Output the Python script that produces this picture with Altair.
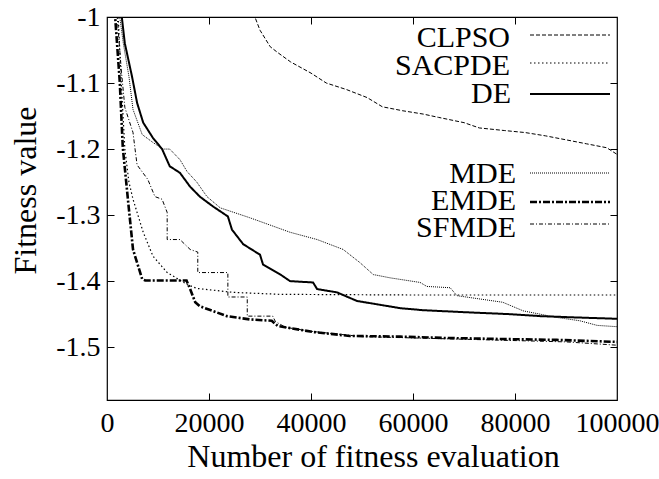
import altair as alt
import pandas as pd

# ---------------- data ----------------
names = ["CLPSO", "SACPDE", "DE", "MDE", "EMDE", "SFMDE"]

clpso_x = [27000, 29000, 30000, 32000, 33500, 36000, 40000, 43000, 47000, 51000, 54000,
           58000, 62000, 65000, 70000, 73000, 78000, 82000, 86000, 90000, 94000, 98000, 100000]
clpso_y = [-0.97, -1.0, -1.02, -1.045, -1.054, -1.068, -1.085, -1.1, -1.11, -1.122, -1.136,
           -1.142, -1.147, -1.152, -1.16, -1.168, -1.172, -1.175, -1.18, -1.186, -1.192, -1.198, -1.208]

sacpde_x = [1800, 2200, 2800, 3500, 4300, 5100, 7100, 9000, 11800, 15700, 17600, 24700,
            34000, 60000, 100000]
sacpde_y = [-0.97, -1.0, -1.1, -1.2, -1.25, -1.276, -1.326, -1.362, -1.387, -1.405, -1.411,
            -1.417, -1.42, -1.421, -1.421]

de_x = [2500, 2900, 3500, 4900, 5900, 7100, 9000, 10800, 12300, 14300, 16300, 18200, 20800,
        23700, 24500, 26700, 30000, 30600, 34000, 35900, 40400, 41200, 45100, 49000, 52900,
        57500, 62000, 70000, 79000, 85000, 92000, 100000]
de_y = [-0.95, -1.0, -1.04, -1.09, -1.13, -1.16, -1.183, -1.2, -1.226, -1.236, -1.257, -1.272,
        -1.287, -1.302, -1.322, -1.344, -1.36, -1.375, -1.39, -1.4, -1.402, -1.412, -1.417,
        -1.43, -1.435, -1.441, -1.444, -1.447, -1.45, -1.453, -1.455, -1.457]

mde_x = [2000, 2500, 3200, 4300, 5100, 6900, 9000, 11000, 12300, 14300, 15700, 17600, 19600,
         22200, 28000, 35900, 41200, 46300, 49600, 52200, 55500, 61400, 62700, 67300, 68600,
         77600, 81600, 84900, 88200, 92700, 96100, 100000]
mde_y = [-0.95, -1.0, -1.04, -1.09, -1.14, -1.178, -1.19, -1.2, -1.2, -1.216, -1.234, -1.25,
         -1.272, -1.289, -1.304, -1.326, -1.337, -1.352, -1.372, -1.39, -1.395, -1.402, -1.408,
         -1.41, -1.422, -1.432, -1.445, -1.45, -1.455, -1.46, -1.467, -1.469]

emde_x = [1200, 1600, 2500, 3100, 4100, 5100, 5900, 6900, 7500, 15600, 16300, 17300, 18200,
          23500, 28000, 32300, 33500, 40400, 47600, 57500, 65900, 80000, 88200, 100000]
emde_y = [-0.97, -1.0, -1.098, -1.198, -1.276, -1.352, -1.372, -1.397, -1.399, -1.399, -1.412,
          -1.432, -1.438, -1.453, -1.458, -1.46, -1.468, -1.477, -1.483, -1.484, -1.486, -1.488,
          -1.489, -1.492]

sfmde_x = [1500, 2000, 2800, 3500, 5100, 5500, 5900, 8000, 9400, 10800, 11800, 11800, 14300,
           16300, 17800, 17800, 23700, 23700, 27500, 27500, 32500, 33000, 35000, 40000, 50000,
           60000, 70000, 80000, 90000, 100000]
sfmde_y = [-0.97, -1.0, -1.08, -1.137, -1.175, -1.2, -1.224, -1.246, -1.272, -1.276, -1.296,
           -1.337, -1.337, -1.352, -1.356, -1.387, -1.387, -1.424, -1.424, -1.453, -1.453,
           -1.461, -1.47, -1.476, -1.484, -1.486, -1.488, -1.49, -1.492, -1.497]

x_ticks = [0, 20000, 40000, 60000, 80000, 100000]
y_ticks = [-1.0, -1.1, -1.2, -1.3, -1.4, -1.5]

series_x = [clpso_x, sacpde_x, de_x, mde_x, emde_x, sfmde_x]
series_y = [clpso_y, sacpde_y, de_y, mde_y, emde_y, sfmde_y]

# ---------------- styles ----------------
FONT = "Liberation Serif"
W, H = 510, 383
styles = {
    "CLPSO": dict(dash=[4, 2], width=1.0),
    "SACPDE": dict(dash=[1.5, 2.5], width=1.2),
    "DE": dict(dash=[1, 0], width=2.0),
    "MDE": dict(dash=[1, 1], width=1.0),
    "EMDE": dict(dash=[7, 2, 2, 2], width=2.6),
    "SFMDE": dict(dash=[4, 2, 1, 2], width=1.0),
}
legend_rows = {  # (text right x, baseline y, sample y) in view pixels
    "CLPSO": (403, 30, 18),
    "SACPDE": (403, 58, 46),
    "DE": (404, 86, 77),
    "MDE": (409, 166, 156),
    "EMDE": (409, 193, 185),
    "SFMDE": (409, 220, 207),
}

xs = alt.Scale(domain=[0, 100000], nice=False, zero=False)
ys = alt.Scale(domain=[-1.58, -1.0], nice=False, zero=False)

frames = []
for n, xv, yv in zip(names, series_x, series_y):
    frames.append(pd.DataFrame({"series": n, "x": xv, "y": yv, "idx": range(len(xv))}))
df = pd.concat(frames, ignore_index=True)

layers = []

axis_font = dict(labelFont=FONT, titleFont=FONT, labelFontSize=28, titleFontSize=32,
                 labelColor="black", titleColor="black", titleFontWeight="normal")

# main axes with labels (no ticks)
main_x_axis = alt.Axis(values=x_ticks, format="d", ticks=False, tickSize=0, domain=False,
                       grid=False, labelPadding=9, title="Number of fitness evaluation",
                       titlePadding=4, titleX=266, labelFlush=False, **axis_font)
main_y_axis = alt.Axis(values=y_ticks, ticks=False, tickSize=0, domain=False, grid=False,
                       labelPadding=7, title="Fitness value", titlePadding=13, titleY=173,
                       labelExpr="datum.value == 0 ? '0' : '-' + format(abs(datum.value), '.1~f')",
                       **axis_font)

for i, n in enumerate(names):
    st = styles[n]
    sub = df[df.series == n]
    xa = main_x_axis if i == 0 else None
    ya = main_y_axis if i == 0 else None
    layers.append(
        alt.Chart(sub).mark_line(clip=True, color="black", strokeWidth=st["width"],
                                 strokeDash=st["dash"], strokeCap="butt")
        .encode(x=alt.X("x:Q", scale=xs, axis=xa),
                y=alt.Y("y:Q", scale=ys, axis=ya),
                order="idx:Q")
    )

# inward tick marks on all four sides (extra axes with negative offset)
tick_common = dict(labels=False, domain=False, grid=False, tickSize=7, tickColor="black",
                   tickWidth=1, title=None, offset=-7)
for xo, yo in [("bottom", "left"), ("top", "right")]:
    layers.append(
        alt.Chart(df).mark_point(opacity=0)
        .encode(x=alt.X("x:Q", scale=xs,
                        axis=alt.Axis(orient=xo, values=[20000, 40000, 60000, 80000], **tick_common)),
                y=alt.Y("y:Q", scale=ys,
                        axis=alt.Axis(orient=yo, values=[-1.1, -1.2, -1.3, -1.4, -1.5], **tick_common)))
    )

# legend drawn inside the plot, labels left of samples
for n in names:
    tx, ty, ly = legend_rows[n]
    st = styles[n]
    ldf = pd.DataFrame({"name": [n]})
    layers.append(
        alt.Chart(ldf).mark_text(align="right", baseline="alphabetic", font=FONT, fontSize=30,
                                 color="black")
        .encode(text="name:N", x=alt.value(tx), y=alt.value(ty))
    )
    layers.append(
        alt.Chart(ldf).mark_rule(color="black", strokeWidth=st["width"], strokeDash=st["dash"],
                                 strokeCap="butt")
        .encode(x=alt.value(423), x2=alt.value(503), y=alt.value(ly))
    )

chart = (
    alt.layer(*layers)
    .resolve_axis(x="independent", y="independent")
    .properties(width=W, height=H, autosize=alt.AutoSizeParams(type="none"),
                padding={"left": 107, "top": 17, "right": 42, "bottom": 79},
                background="white")
    .configure_view(stroke="black", strokeWidth=1.2)
)

chart.save("out.html", embed_options={"renderer": "svg", "actions": False})
